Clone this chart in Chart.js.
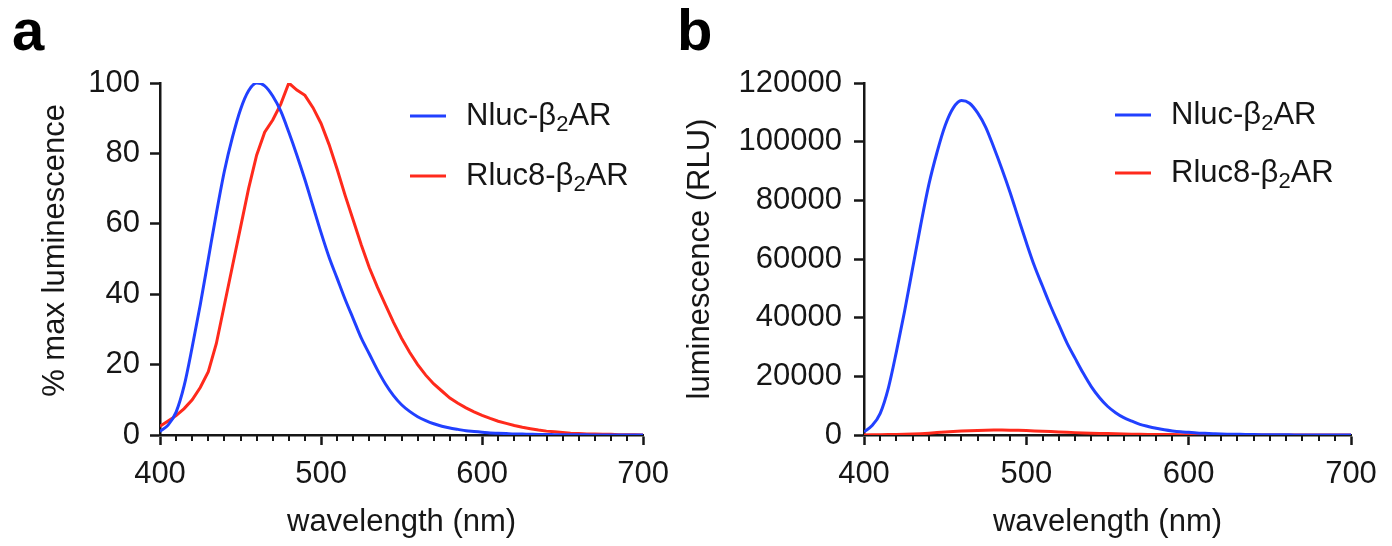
<!DOCTYPE html>
<html>
<head>
<meta charset="utf-8">
<title>Nluc vs Rluc8 emission spectra</title>
<script src="https://cdn.jsdelivr.net/npm/chart.js@4"></script>
<style>
  body { margin: 0; background: #fff; }
  .panel { position: absolute; top: 0; }
</style>
</head>
<body>
<div class="panel" style="left:0"><canvas id="chartA" width="680" height="546"></canvas></div>
<div class="panel" style="left:660px"><canvas id="chartB" width="732" height="546"></canvas></div>
<script>
// wavelength (nm), 5 nm steps
const wavelengths = [
  400, 405, 410, 415, 420, 425, 430, 435, 440, 445,
  450, 455, 460, 465, 470, 475, 480, 485, 490, 495,
  500, 505, 510, 515, 520, 525, 530, 535, 540, 545,
  550, 555, 560, 565, 570, 575, 580, 585, 590, 595,
  600, 605, 610, 615, 620, 625, 630, 635, 640, 645,
  650, 655, 660, 665, 670, 675, 680, 685, 690, 695, 700
];

// panel a: % max luminescence
const nlucPct = [
  1, 2.8, 6.5, 14, 25, 37, 50, 63, 75, 84.6,
  92.5, 97.8, 100, 99.2, 96.3, 92, 86, 79.5, 72.5, 65,
  57.5, 50.5, 44.5, 38.5, 33, 27.5, 23, 18.5, 14.5, 11.2,
  8.6, 6.7, 5.2, 4.1, 3.2, 2.5, 2.0, 1.6, 1.2, 1.0,
  0.8, 0.6, 0.5, 0.4, 0.3, 0.25, 0.2, 0.15, 0.12, 0.1,
  0.08, 0.06, 0.05, 0.04, 0.03, 0.02, 0.02, 0.01, 0.01, 0.01, 0
];
const rluc8Pct = [
  2.5, 4, 5.5, 7.5, 10, 13.5, 18, 26, 37, 48,
  59, 70, 79.5, 86, 89.5, 94, 100, 98, 96.5, 93,
  88.5, 82.5, 75.5, 68, 61, 54, 47.5, 42, 37, 32,
  27.5, 23.5, 20, 17, 14.5, 12.5, 10.5, 9, 7.7, 6.6,
  5.6, 4.7, 3.9, 3.3, 2.7, 2.2, 1.8, 1.4, 1.1, 0.9,
  0.7, 0.5, 0.4, 0.3, 0.3, 0.2, 0.2, 0.1, 0.1, 0.1, 0
];

// panel b: luminescence (RLU)
const nlucRlu = [
  1100, 3200, 7400, 16000, 28500, 42200, 57000, 71800, 85500, 96400,
  105500, 111500, 114000, 113100, 109800, 104900, 98000, 90600, 82700, 74100,
  65600, 57600, 50700, 43900, 37600, 31400, 26200, 21100, 16500, 12800,
  9800, 7600, 5900, 4700, 3600, 2900, 2300, 1800, 1400, 1100,
  900, 700, 570, 450, 340, 280, 230, 180, 140, 110,
  90, 70, 55, 40, 30, 25, 20, 15, 10, 5, 0
];
const rluc8Rlu = [
  40, 70, 95, 130, 170, 230, 310, 440, 630, 820,
  1000, 1190, 1350, 1460, 1550, 1620, 1690, 1680, 1640, 1580,
  1500, 1400, 1290, 1160, 1040, 920, 810, 710, 630, 540,
  470, 400, 340, 290, 250, 210, 180, 150, 130, 110,
  95, 80, 66, 56, 46, 37, 31, 24, 19, 15,
  12, 9, 7, 5, 5, 3, 3, 2, 2, 2, 0
];

// legend text split around the subscript
const seriesNames = [
  ['Nluc-\u03b2', '2', 'AR'],
  ['Rluc8-\u03b2', '2', 'AR']
];
const xTicksA = [400, 500, 600, 700];
const yTicksA = [0, 20, 40, 60, 80, 100];
const yTicksB = [0, 20000, 40000, 60000, 80000, 100000, 120000];

const BLUE = '#2140ff';
const RED = '#ff2a1c';
const INK = '#161616';
const FONT = '"Liberation Sans", Arial, Helvetica, sans-serif';

Chart.defaults.font.family = FONT;
Chart.defaults.color = INK;

const toXY = (ys) => ys.map((y, i) => ({ x: wavelengths[i], y }));

// minor ticks every 10 nm on the x axis
const minorTicks = {
  id: 'minorTicks',
  beforeDatasetsDraw(chart) {
    const xs = chart.scales.x;
    const ctx = chart.ctx;
    const y0 = chart.chartArea.bottom;
    ctx.save();
    ctx.strokeStyle = INK;
    ctx.lineWidth = 2;
    for (let v = xs.min + 10; v < xs.max; v += 10) {
      if (v % 100 === 0) continue;
      const px = Math.round(xs.getPixelForValue(v));
      ctx.beginPath();
      ctx.moveTo(px, y0);
      ctx.lineTo(px, y0 + 6);
      ctx.stroke();
    }
    ctx.restore();
  }
};

// legend with subscripted 2 + panel letter
const decor = {
  id: 'decor',
  afterDraw(chart, args, opts) {
    const ctx = chart.ctx;
    ctx.save();
    ctx.fillStyle = '#000';
    ctx.font = 'bold 58px ' + FONT;
    ctx.textBaseline = 'alphabetic';
    ctx.fillText(opts.letter, opts.letterX, 50);

    chart.data.datasets.forEach((ds, i) => {
      const y = opts.legendY[i];
      ctx.strokeStyle = ds.borderColor;
      ctx.lineWidth = 3;
      ctx.beginPath();
      ctx.moveTo(opts.lineX, y);
      ctx.lineTo(opts.lineX + 36, y);
      ctx.stroke();

      const [pre, sub, post] = seriesNames[i];
      let x = opts.textX;
      ctx.fillStyle = INK;
      ctx.textBaseline = 'middle';
      ctx.font = '31px ' + FONT;
      ctx.fillText(pre, x, y);
      x += ctx.measureText(pre).width;
      ctx.font = '22px ' + FONT;
      ctx.fillText(sub, x, y + 9);
      x += ctx.measureText(sub).width;
      ctx.font = '31px ' + FONT;
      ctx.fillText(post, x, y);
    });
    ctx.restore();
  }
};

function makeChart(id, cfg) {
  const axisCommon = {
    type: 'linear',
    border: { display: true, color: INK, width: 2.5 },
    grid: { drawOnChartArea: false, drawTicks: true, tickLength: 10, tickWidth: 2.5, tickColor: INK }
  };
  return new Chart(document.getElementById(id), {
    type: 'line',
    data: {
      datasets: [
        { label: seriesNames[0].join(''), data: toXY(cfg.nluc), borderColor: BLUE, borderWidth: 3,
          pointRadius: 0, cubicInterpolationMode: 'monotone' },
        { label: seriesNames[1].join(''), data: toXY(cfg.rluc8), borderColor: RED, borderWidth: 3,
          pointRadius: 0, tension: 0 }
      ]
    },
    options: {
      responsive: false,
      animation: false,
      layout: { padding: { top: 83, right: cfg.padRight, left: 0, bottom: 0 } },
      plugins: {
        legend: { display: false },
        tooltip: { enabled: false },
        decor: cfg.decor
      },
      scales: {
        x: {
          ...axisCommon,
          min: 400, max: 700,
          afterBuildTicks: (s) => { s.ticks = xTicksA.map(v => ({ value: v })); },
          ticks: { padding: 11, font: { size: 31 } },
          title: { display: true, text: 'wavelength (nm)', font: { size: 31, lineHeight: 1 },
                   padding: { top: 0, bottom: 8 } },
          afterFit: (s) => { s.height = 111; }
        },
        y: {
          ...axisCommon,
          min: 0, max: cfg.yTicks[cfg.yTicks.length - 1],
          afterBuildTicks: (s) => { s.ticks = cfg.yTicks.map(v => ({ value: v })); },
          ticks: { padding: cfg.yPad, font: { size: 31 }, callback: (v) => String(v) },
          title: { display: true, text: cfg.yTitle, font: { size: 31, lineHeight: 1 },
                   padding: { top: cfg.yTitlePad, bottom: 0 } },
          afterFit: (s) => { s.width = cfg.yWidth; }
        }
      }
    },
    plugins: [minorTicks, decor]
  });
}

makeChart('chartA', {
  nluc: nlucPct, rluc8: rluc8Pct,
  yTicks: yTicksA, yTitle: '  % max luminescence',
  yWidth: 160, yPad: 10, yTitlePad: 40, padRight: 34,
  decor: { letter: 'a', letterX: 12, lineX: 410, textX: 466, legendY: [116, 176] }
});

makeChart('chartB', {
  nluc: nlucRlu, rluc8: rluc8Rlu,
  yTicks: yTicksB, yTitle: 'luminescence (RLU)',
  yWidth: 204, yPad: 12, yTitlePad: 25, padRight: 41,
  decor: { letter: 'b', letterX: 17, lineX: 455, textX: 511, legendY: [115, 173] }
});
</script>
</body>
</html>
